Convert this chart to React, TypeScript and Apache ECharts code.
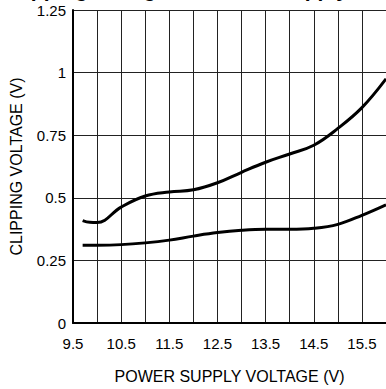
import React, { useEffect, useRef } from "react";
import * as echarts from "echarts";

const TITLE = "Clipping Voltage vs. Power Supply Voltage";
const X_NAME = "POWER SUPPLY VOLTAGE (V)";
const Y_NAME = "CLIPPING VOLTAGE (V)";

const upperX = [9.7, 9.85, 10.0, 10.5, 11.0, 11.5, 12.0, 12.5, 13.0, 13.5, 14.0, 14.5, 15.0, 15.5, 16.0];
const upperY = [0.409, 0.402, 0.401, 0.463, 0.507, 0.523, 0.532, 0.56, 0.602, 0.642, 0.675, 0.71, 0.777, 0.86, 0.975];

const lowerX = [9.7, 10.0, 10.5, 11.0, 11.5, 12.0, 12.5, 13.0, 13.5, 14.0, 14.5, 15.0, 15.5, 16.0];
const lowerY = [0.311, 0.311, 0.313, 0.32, 0.331, 0.347, 0.361, 0.37, 0.374, 0.374, 0.378, 0.394, 0.43, 0.472];

const FONT = "'Liberation Sans', Arial, sans-serif";

export default function App() {
  const ref = useRef<HTMLDivElement>(null);
  useEffect(() => {
    document.body.style.margin = "0";
    if (!ref.current) return;
    const chart = echarts.init(ref.current, null, { renderer: "svg" });
    const upper = upperX.map((x, i) => [x, upperY[i]]);
    const lower = lowerX.map((x, i) => [x, lowerY[i]]);
    chart.setOption({
      animation: false,
      backgroundColor: "#fff",
      textStyle: { fontFamily: FONT },
      graphic: [
        {
          type: "text",
          x: 4,
          y: 0,
          style: {
            text: TITLE,
            font: `bold 21px ${FONT}`,
            fill: "#000",
            verticalAlign: "bottom",
          },
        },
      ],
      grid: { left: 73, top: 10, right: -2, bottom: 64 },
      xAxis: {
        type: "value",
        min: 9.5,
        max: 16,
        interval: 0.5,
        name: X_NAME,
        nameLocation: "middle",
        nameGap: 45,
        nameTextStyle: { fontSize: 16, color: "#000", fontFamily: FONT },
        axisLine: { show: true, onZero: false, lineStyle: { color: "#000", width: 2 } },
        axisTick: { show: false },
        splitLine: { show: true, lineStyle: { color: "#222", width: 1 } },
        axisLabel: {
          fontSize: 15,
          color: "#000",
          margin: 13,
          fontFamily: FONT,
          showMaxLabel: false,
          formatter: (v: number) => {
            const r = Math.abs((v - 9.5) % 1);
            return r < 1e-6 && v < 15.9 ? String(v) : "";
          },
        },
      },
      yAxis: {
        type: "value",
        min: 0,
        max: 1.25,
        interval: 0.25,
        name: Y_NAME,
        nameLocation: "middle",
        nameGap: 49,
        nameRotate: 90,
        nameTextStyle: { fontSize: 16, color: "#000", fontFamily: FONT },
        axisLine: { show: true, lineStyle: { color: "#000", width: 2 } },
        axisTick: { show: false },
        splitLine: { show: true, lineStyle: { color: "#222", width: 1 } },
        axisLabel: { fontSize: 15, color: "#000", margin: 7, fontFamily: FONT },
      },
      series: [
        {
          type: "line",
          data: upper,
          smooth: 0.4,
          symbol: "none",
          lineStyle: { color: "#000", width: 3 },
        },
        {
          type: "line",
          data: lower,
          smooth: 0.4,
          symbol: "none",
          lineStyle: { color: "#000", width: 3 },
        },
      ],
    });
    return () => chart.dispose();
  }, []);
  return (
    <div
      ref={ref}
      style={{ position: "fixed", left: 0, top: 0, width: 386, height: 389 }}
    />
  );
}
